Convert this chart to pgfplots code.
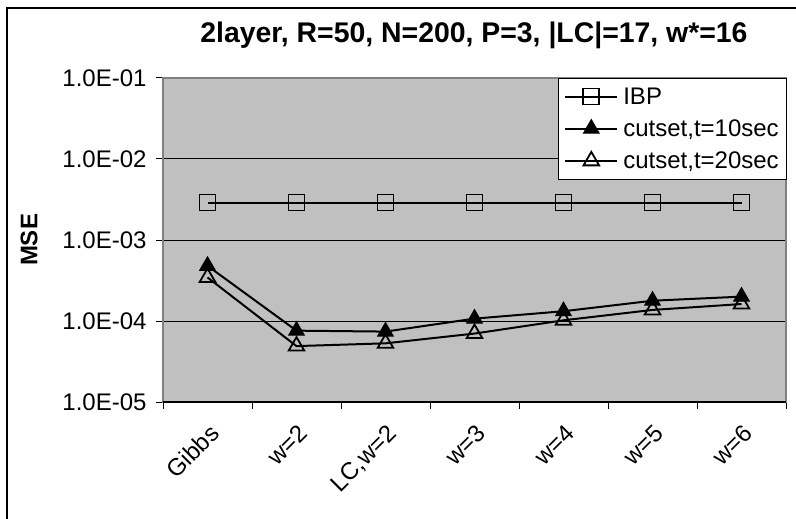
\documentclass[border=0pt]{standalone}
\usepackage{pgfplots}
\pgfplotsset{compat=1.18}
\usepackage{fontspec}
\setmainfont{Liberation Sans}

\definecolor{plotgray}{RGB}{192,192,192}
\definecolor{frame}{RGB}{128,128,128}

\begin{document}
\begin{tikzpicture}[x=1pt,y=1pt]
  % chart area
  \useasboundingbox (0,0) rectangle (796,519);
  \draw[line width=1.5pt] (7,0) -- (7,511) -- (796,511);

  \node[font=\bfseries\fontsize{28.4}{33}\selectfont] at (474,484) {2layer, R=50, N=200, P=3, |LC|=17, w*=16};
  \node[font=\bfseries\fontsize{24}{28}\selectfont, rotate=90] at (29,279) {MSE};

  \begin{axis}[
    at={(163pt,117pt)}, anchor=south west,
    scale only axis, width=623pt, height=324pt,
    xmin=0, xmax=7,
    ymode=log, ymin=1e-5, ymax=1e-1,
    xtick={0.5,1.5,2.5,3.5,4.5,5.5,6.5},
    xticklabels={Gibbs,{w=2},{LC,w=2},{w=3},{w=4},{w=5},{w=6}},
    minor xtick={0,1,2,3,4,5,6,7},
    major x tick style={draw=none},
    ytick={1e-5,1e-4,1e-3,1e-2,1e-1},
    yticklabels={1.0E-05,1.0E-04,1.0E-03,1.0E-02,1.0E-01},
    yminorticks=false,
    tick align=outside, tick pos=left,
    major tick length=7pt, minor tick length=7pt,
    tick style={black, line width=1pt},
    ymajorgrids, major grid style={black, line width=1pt},
    axis background/.style={fill=plotgray},
    axis line style={draw=frame, line width=2pt},
    tick label style={font=\fontsize{24}{28}\selectfont},
    xticklabel style={rotate=45, anchor=north east, xshift=-6pt, yshift=-7pt},
    yticklabel style={xshift=-6pt},
    legend style={at={(rel axis cs:1.002,1)}, anchor=north east,
      draw=black, line width=1pt, fill=white,
      font=\fontsize{24}{28}\selectfont, row sep=10pt, column sep=3pt,
      inner xsep=6pt, inner ysep=7pt},
    legend cell align=left,
    legend image code/.code={%
      \draw[mark repeat=2, mark phase=2, #1]
        plot coordinates {(0pt,0pt) (26pt,0pt) (52pt,0pt)};},
    every axis plot/.append style={black, line width=2pt},
    clip=false,
  ]
    \addplot[mark=square, mark size=8pt, mark options={solid, fill=none, line width=1.8pt}]
      coordinates {(0.5,2.9e-3) (1.5,2.9e-3) (2.5,2.9e-3) (3.5,2.9e-3) (4.5,2.9e-3) (5.5,2.9e-3) (6.5,2.9e-3)};
    \addlegendentry{IBP}
    \addplot[mark=triangle*, mark size=9pt, mark options={solid, fill=black, line width=1pt}]
      coordinates {(0.5,4.8e-4) (1.5,7.6e-5) (2.5,7.4e-5) (3.5,1.07e-4) (4.5,1.32e-4) (5.5,1.78e-4) (6.5,2.0e-4)};
    \addlegendentry{cutset,t=10sec}
    \addplot[mark=triangle, mark size=9pt, mark options={solid, fill=none, line width=1.8pt}]
      coordinates {(0.5,3.45e-4) (1.5,4.9e-5) (2.5,5.3e-5) (3.5,7.0e-5) (4.5,1.02e-4) (5.5,1.37e-4) (6.5,1.62e-4)};
    \addlegendentry{cutset,t=20sec}
    % category axis drawn in black over the plot-area frame
    \draw[black, line width=1.5pt] (rel axis cs:0,0) -- (rel axis cs:1,0);
  \end{axis}
\end{tikzpicture}
\end{document}
